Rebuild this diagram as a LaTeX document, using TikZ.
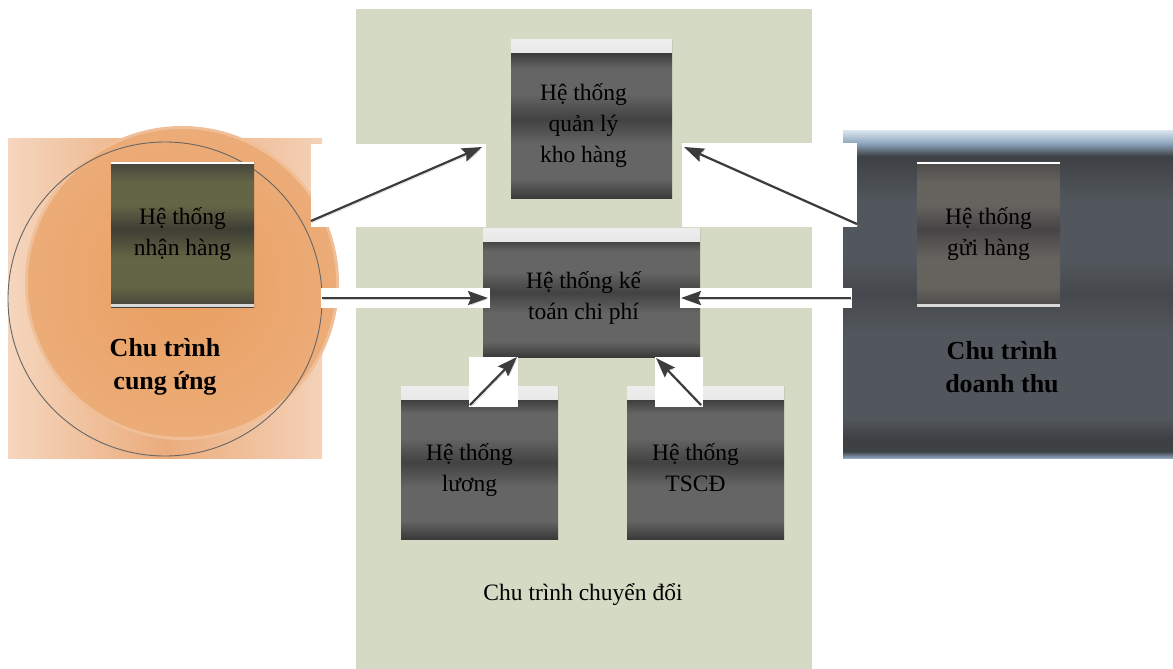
\documentclass[tikz,border=0pt]{standalone}
\usepackage{fontspec}
\setmainfont{Liberation Serif}
\usetikzlibrary{arrows.meta}

\definecolor{sage}{HTML}{D4DAC4}
\definecolor{peachlo}{HTML}{F5D6BE}
\definecolor{peachhi}{HTML}{EBAC7C}
\definecolor{peachin}{HTML}{E89E5E}
\definecolor{peachout}{HTML}{ECAC78}
\definecolor{barhi}{HTML}{EEEEEE}
\definecolor{barlo}{HTML}{B4B4B4}
\definecolor{arrowgray}{HTML}{3C3C3C}

% band colours of the boxes
\definecolor{gyD}{HTML}{3A3A3A}
\definecolor{gyL}{HTML}{656565}
\definecolor{gyM}{HTML}{424242}
\definecolor{olD}{HTML}{44443C}
\definecolor{olL}{HTML}{646446}
\definecolor{olM}{HTML}{3E3E34}
\definecolor{wmD}{HTML}{4C4A48}
\definecolor{wmL}{HTML}{66625E}
\definecolor{wmM}{HTML}{464446}
\definecolor{slD}{HTML}{3E4144}
\definecolor{slL}{HTML}{52575D}
\definecolor{slM}{HTML}{45484C}
\definecolor{slB}{HTML}{DCE6F0}
\definecolor{slE}{HTML}{8EA6BE}

\pgfdeclareverticalshading{grayband}{100bp}{color(0bp)=(gyD); color(25bp)=(gyD);
  color(31bp)=(gyL); color(42bp)=(gyL); color(50bp)=(gyM); color(58bp)=(gyL);
  color(66bp)=(gyL); color(71bp)=(gyD); color(100bp)=(gyD)}
\pgfdeclareverticalshading{oliveband}{100bp}{color(0bp)=(olD); color(25bp)=(olD);
  color(32bp)=(olL); color(42bp)=(olL); color(52bp)=(olM); color(60bp)=(olL);
  color(68bp)=(olL); color(75bp)=(olD); color(100bp)=(olD)}
\pgfdeclareverticalshading{warmband}{100bp}{color(0bp)=(wmD); color(25bp)=(wmD);
  color(32bp)=(wmL); color(42bp)=(wmL); color(52bp)=(wmM); color(60bp)=(wmL);
  color(68bp)=(wmL); color(75bp)=(wmD); color(100bp)=(wmD)}
\pgfdeclareverticalshading{slateband}{100bp}{color(0bp)=(slE); color(25bp)=(slE);
  color(26bp)=(slD); color(28bp)=(slD); color(31bp)=(slL); color(44bp)=(slL);
  color(50bp)=(slM); color(55bp)=(slL); color(64bp)=(slL); color(71bp)=(slD);
  color(73bp)=(slE); color(75bp)=(slB); color(100bp)=(slB)}

\begin{document}
\begin{tikzpicture}[x=1pt,y=-1pt,
    txt/.style={font=\fontsize{23.5}{31}\selectfont, align=center, inner sep=0pt},
    cyc/.style={font=\bfseries\fontsize{26}{33}\selectfont, align=center, inner sep=0pt},
    box/.style={shade, shading=grayband, minimum width=157pt, minimum height=153pt, inner sep=0pt,
      path picture={\shade[top color=barhi, bottom color=barlo]
        (path picture bounding box.north west) rectangle ([yshift=-13pt]path picture bounding box.north east);}},
    sqbox/.style={txt, shade, minimum width=143pt, minimum height=145pt,
      path picture={\fill[white] (path picture bounding box.north west) rectangle ([yshift=-2pt]path picture bounding box.north east);
        \fill[white!85!black] (path picture bounding box.south west) rectangle ([yshift=3pt]path picture bounding box.south east);}},
    patch/.style={fill=white, inner sep=0pt},
    flow/.style={-{Stealth[length=20pt,width=14pt,inset=3pt]}, line width=2.2pt, draw=arrowgray,
      preaction={draw=black!18, transform canvas={shift={(1.2pt,-1.6pt)}}}}]

  \useasboundingbox (0,0) rectangle (1173,669);

  % the three cycles
  \fill[sage] (356,9) rectangle (812,669);
  \shade[left color=peachlo, right color=peachlo!90!peachhi, middle color=peachhi] (8,138) rectangle (322,458);
  \fill[peachout!55!peachlo] (182,283) circle (157pt);
  \shade[inner color=peachin, outer color=peachout] (182,283) circle (154pt);
  \draw[black!60, line width=0.9pt] (165,299) circle (157pt);
  \shade[shading=slateband] (843,130) rectangle (1173,458);

  % systems
  \node[sqbox, shading=oliveband] (nhan) at (182.5,234.5) {Hệ thống\\nhận hàng};
  \node[sqbox, shading=warmband] (gui) at (988.5,234.5) {Hệ thống\\gửi hàng};
  \node[box, minimum width=161pt, minimum height=158pt,
    label={[txt, xshift=-8pt, yshift=-7pt]center:{Hệ thống\\quản lý\\kho hàng}}] (kho) at (591.5,119) {};
  \node[box, minimum width=217pt, minimum height=129pt,
    label={[txt, xshift=-8pt, yshift=-5pt]center:{Hệ thống kế\\toán chi phí}}] (ketoan) at (591.5,292.5) {};
  \node[box, label={[txt, xshift=-10pt, yshift=-8pt]center:{Hệ thống\\lương}}] (luong) at (479.5,462.5) {};
  \node[box, label={[txt, xshift=-10pt, yshift=-5pt]center:{Hệ thống\\TSCĐ}}] (tscd) at (705.5,462.5) {};

  \node[cyc] (cungung) at (165,367) {Chu trình\\cung ứng};
  \node[cyc] (doanhthu) at (1002,367) {Chu trình\\doanh thu};
  \node[txt] (chuyendoi) at (583,595) {Chu trình chuyển đổi};

  % white patches behind the arrows
  \node[patch, minimum width=175pt, minimum height=83pt] (p1) at (398.5,185.5) {};
  \node[patch, minimum width=169pt, minimum height=20pt] (p2) at (405.5,298) {};
  \node[patch, minimum width=175pt, minimum height=84pt] (p3) at (769.5,185) {};
  \node[patch, minimum width=172pt, minimum height=20pt] (p4) at (766,298) {};
  \node[patch, minimum width=49pt, minimum height=50pt] (p5) at (493.5,382) {};
  \node[patch, minimum width=48pt, minimum height=50pt] (p6) at (679,382) {};

  \coordinate (a1) at (311,221);  \coordinate (b1) at (482,147);
  \coordinate (a2) at (322,298);  \coordinate (b2) at (488,298);
  \coordinate (a3) at (857,224);  \coordinate (b3) at (684,147);
  \coordinate (a4) at (851,298);  \coordinate (b4) at (681,298);
  \coordinate (a5) at (470,405);  \coordinate (b5) at (517,357);
  \coordinate (a6) at (701,405);  \coordinate (b6) at (656,358);

  \foreach \i in {1,...,6}
    \draw[flow] (a\i) -- (b\i);

\end{tikzpicture}
\end{document}
